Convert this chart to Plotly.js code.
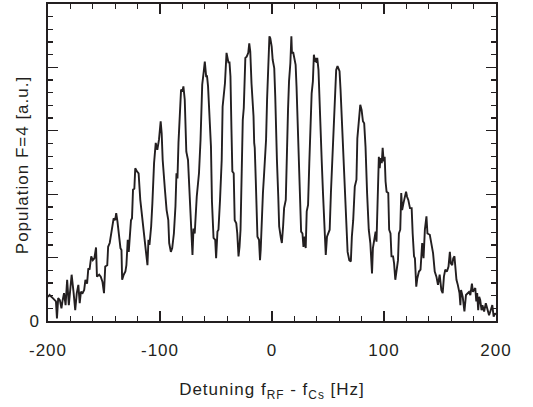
<!DOCTYPE html>
<html>
<head>
<meta charset="utf-8">
<script src="https://cdn.plot.ly/plotly-3.0.1.min.js"></script>
<style>
html,body{margin:0;padding:0;background:#fff;}
#chart{width:533px;height:407px;}
#chart svg text{letter-spacing:1px;}
</style>
</head>
<body>
<div id="chart"></div>
<script>
// Detuning (Hz)
var detuning = [
-200.0,-198.6,-195.7,-194.3,-192.9,-192.0,-190.9,-189.4,-188.0,-187.1,
-185.7,-184.3,-182.9,-181.4,-180.3,-178.9,-177.1,-175.7,-174.3,-172.9,
-171.7,-170.6,-169.1,-167.7,-166.6,-165.1,-164.0,-162.9,-161.4,-160.0,
-158.6,-157.1,-156.3,-154.3,-152.9,-151.4,-150.0,-148.9,-147.1,-146.3,
-144.9,-143.7,-142.3,-141.4,-140.0,-139.1,-138.0,-136.6,-135.3,-134.4,
-133.8,-132.4,-130.9,-130.0,-128.8,-127.9,-127.1,-125.9,-125.0,-124.1,
-122.9,-122.1,-120.6,-119.1,-117.6,-116.2,-114.7,-113.2,-112.4,-111.2,
-110.3,-109.4,-107.9,-106.8,-105.3,-103.8,-102.4,-100.9,-99.4,-98.5,
-97.6,-95.6,-94.1,-92.6,-91.8,-90.3,-89.1,-87.6,-86.2,-85.3,
-84.4,-83.5,-82.4,-81.2,-80.0,-79.1,-77.9,-76.5,-75.0,-73.5,
-72.1,-71.0,-70.1,-69.0,-67.2,-65.2,-63.8,-62.3,-60.9,-60.0,
-58.8,-58.0,-57.1,-55.9,-54.5,-53.6,-52.2,-50.7,-49.9,-48.7,
-47.8,-46.4,-44.9,-44.1,-42.9,-42.0,-40.6,-39.7,-38.8,-38.0,
-37.1,-36.2,-35.4,-34.2,-33.3,-31.9,-31.0,-29.9,-29.0,-28.1,
-27.0,-26.1,-25.2,-24.6,-23.8,-22.6,-21.2,-20.3,-19.4,-18.3,
-17.4,-16.5,-15.9,-15.4,-14.5,-13.0,-11.6,-10.7,-10.1,-9.3,
-8.1,-7.2,-6.1,-5.3,-4.4,-3.2,-2.3,-1.5,-0.3,0.6,
2.0,2.9,3.5,4.4,5.6,6.4,7.9,8.8,9.9,10.8,
12.3,13.2,14.3,15.2,16.4,17.3,17.8,19.0,19.6,21.1,
21.9,23.4,24.9,26.0,27.2,28.1,29.2,30.1,31.0,32.2,
33.3,34.5,35.4,36.5,37.4,38.3,39.2,39.8,40.4,41.5,
42.4,43.3,44.4,45.6,46.8,48.0,49.1,50.3,51.5,52.6,
53.8,55.0,56.1,57.3,58.5,60.3,61.2,62.3,63.8,64.6,
66.1,67.5,69.0,70.4,71.3,72.5,73.9,75.4,76.2,77.7,
78.8,80.0,81.2,82.3,83.5,84.9,86.4,87.8,89.3,90.1,
91.3,92.5,93.3,94.2,95.4,96.2,96.8,98.0,98.8,99.7,
100.6,101.4,102.3,103.8,104.6,105.8,106.7,108.1,109.0,110.1,
111.3,112.5,113.3,114.5,115.4,116.2,117.4,118.6,119.7,120.6,
121.7,123.2,124.7,125.6,126.8,127.6,128.8,129.7,131.2,132.6,
134.1,135.3,136.5,137.9,138.8,140.9,142.4,143.8,145.3,146.8,
148.2,149.7,151.2,152.4,153.5,154.7,156.2,157.6,158.8,159.7,
160.9,161.8,162.9,163.8,164.7,165.9,167.4,168.2,168.8,170.3,
171.8,173.2,174.7,175.9,177.1,178.5,179.4,180.3,181.5,182.4,
183.2,184.1,185.0,185.9,187.1,187.9,189.4,190.9,192.4,193.8,
195.3,196.7,197.9,199.2,200.0
];
// Population F=4 (a.u.)
var population = [
0.38,0.41,0.36,0.33,0.31,0.04,0.36,0.33,0.20,0.31,
0.44,0.25,0.65,0.25,0.44,0.73,0.44,0.17,0.44,0.57,
0.28,0.46,0.44,0.49,0.65,0.59,0.83,0.81,1.02,0.96,
0.99,1.16,0.70,0.73,0.70,0.62,0.44,0.86,0.88,1.17,
1.23,1.36,1.53,1.62,1.59,1.70,1.57,1.36,1.15,1.12,
0.65,0.73,0.78,0.88,1.28,1.09,1.38,1.59,1.62,2.07,
2.09,2.41,2.36,2.33,1.91,1.65,1.38,1.12,1.07,0.88,
1.28,1.20,1.49,1.86,2.49,2.81,2.70,2.86,3.15,2.96,
2.54,2.07,1.75,1.59,1.23,1.09,1.15,1.38,1.81,2.33,
2.25,2.81,3.17,3.65,3.62,3.70,3.49,2.67,2.54,2.02,
1.38,1.04,1.46,1.38,1.96,2.33,2.86,3.73,3.94,4.09,
3.86,3.86,3.70,3.17,2.75,1.88,1.31,1.28,0.99,1.41,
1.44,1.91,2.54,3.38,3.65,3.75,4.23,4.12,4.07,4.09,
3.86,3.02,2.36,2.33,1.59,1.54,1.38,1.02,1.17,1.44,
2.38,3.17,3.36,3.81,4.15,4.17,4.23,4.38,4.25,3.75,
3.54,3.23,2.81,2.73,2.23,1.33,1.28,0.96,1.12,1.65,
2.02,2.28,2.59,2.86,3.49,4.23,4.49,4.46,4.33,4.12,
3.99,3.54,2.86,2.54,1.96,1.49,1.31,1.23,1.49,1.78,
1.91,2.75,3.33,3.78,4.07,4.49,4.23,4.23,4.17,4.04,
3.70,2.86,2.12,1.41,1.38,1.17,1.33,1.15,1.73,1.83,
2.49,3.07,3.59,3.78,4.20,4.09,4.15,4.07,4.15,3.96,
3.41,2.96,2.52,1.99,1.49,1.04,1.33,1.38,1.44,2.02,
2.54,3.07,3.49,3.96,4.02,3.94,3.65,3.17,2.65,2.28,
1.65,1.09,0.96,0.94,1.33,1.59,2.12,2.23,2.88,3.28,
3.41,3.33,3.15,3.12,2.75,2.02,1.44,1.23,0.75,1.15,
1.28,1.41,1.25,1.70,2.59,2.41,2.57,2.49,2.73,2.52,
2.59,2.20,2.04,2.02,1.44,1.38,1.02,1.02,0.91,0.65,
0.81,0.96,1.38,1.44,2.02,1.75,1.86,1.96,2.04,1.96,
1.91,1.78,1.78,1.38,1.02,0.99,0.54,0.67,0.78,0.81,
1.23,0.99,1.44,1.65,1.38,1.36,1.17,1.07,0.78,0.70,
0.57,0.73,0.49,0.44,0.70,0.81,0.78,0.86,1.09,0.91,
0.88,0.99,1.02,0.86,0.65,0.57,0.44,0.25,0.49,0.38,
0.15,0.41,0.44,0.46,0.41,0.59,0.46,0.49,0.52,0.31,
0.44,0.17,0.38,0.33,0.17,0.25,0.15,0.28,0.20,0.09,
0.17,0.25,0.07,0.12,0.10
];
var xTickVals = [-200, -100, 0, 100, 200];
var xTickText = ["-200", "-100", "0", "100", "200"];
var yTickVals = [0, 1, 2, 3, 4, 5];
var yZeroLabel = "0";
var xTitle = "Detuning f<sub>RF</sub> - f<sub>Cs</sub> [Hz]";
var yTitle = "Population F=4 [a.u.]";

var ink = '#231f20';
var fontFam = 'Liberation Sans, Arial, Helvetica, sans-serif';

var trace = {
  x: detuning, y: population, type: 'scatter', mode: 'lines',
  line: {color: ink, width: 1.9}, hoverinfo: 'skip', showlegend: false
};

var layout = {
  width: 533, height: 407,
  margin: {l: 48, r: 37, t: 4, b: 86},
  paper_bgcolor: '#ffffff', plot_bgcolor: '#ffffff',
  font: {family: fontFam, color: ink, size: 17},
  showlegend: false,
  xaxis: {
    range: [-200, 200], tickmode: 'array', tickvals: xTickVals, ticktext: xTickText,
    ticks: 'inside', ticklen: 10, tickwidth: 1.3, tickcolor: ink,
    showline: true, linewidth: 2, linecolor: ink, mirror: 'ticks',
    showgrid: false, zeroline: false,
    minor: {tickmode: 'linear', tick0: -200, dtick: 20, ticks: 'inside', ticklen: 5, tickwidth: 1.3, tickcolor: ink, showgrid: false},
    tickfont: {family: fontFam, size: 17, color: ink},
    ticklabelstandoff: 13,
    title: {text: xTitle, font: {family: fontFam, size: 17, color: ink}, standoff: 24}
  },
  yaxis: {
    range: [0, 5], tickmode: 'array', tickvals: yTickVals,
    showticklabels: false,
    ticks: 'inside', ticklen: 10, tickwidth: 1.3, tickcolor: ink,
    showline: true, linewidth: 2, linecolor: ink, mirror: 'ticks',
    showgrid: false, zeroline: false,
    minor: {tickmode: 'linear', tick0: 0, dtick: 0.2, ticks: 'inside', ticklen: 5, tickwidth: 1.3, tickcolor: ink, showgrid: false}
  },
  annotations: [
    {text: yZeroLabel, xref: 'paper', yref: 'y', x: 0, y: 0, xanchor: 'right', yanchor: 'middle',
     xshift: -7, showarrow: false, font: {family: fontFam, size: 17, color: ink}},
    {text: yTitle, xref: 'paper', yref: 'paper', x: 0, y: 0.49, xanchor: 'center', yanchor: 'middle',
     xshift: -25, textangle: -90, showarrow: false, font: {family: fontFam, size: 17, color: ink}}
  ]
};

Plotly.newPlot('chart', [trace], layout, {staticPlot: true, displayModeBar: false});
</script>
</body>
</html>
